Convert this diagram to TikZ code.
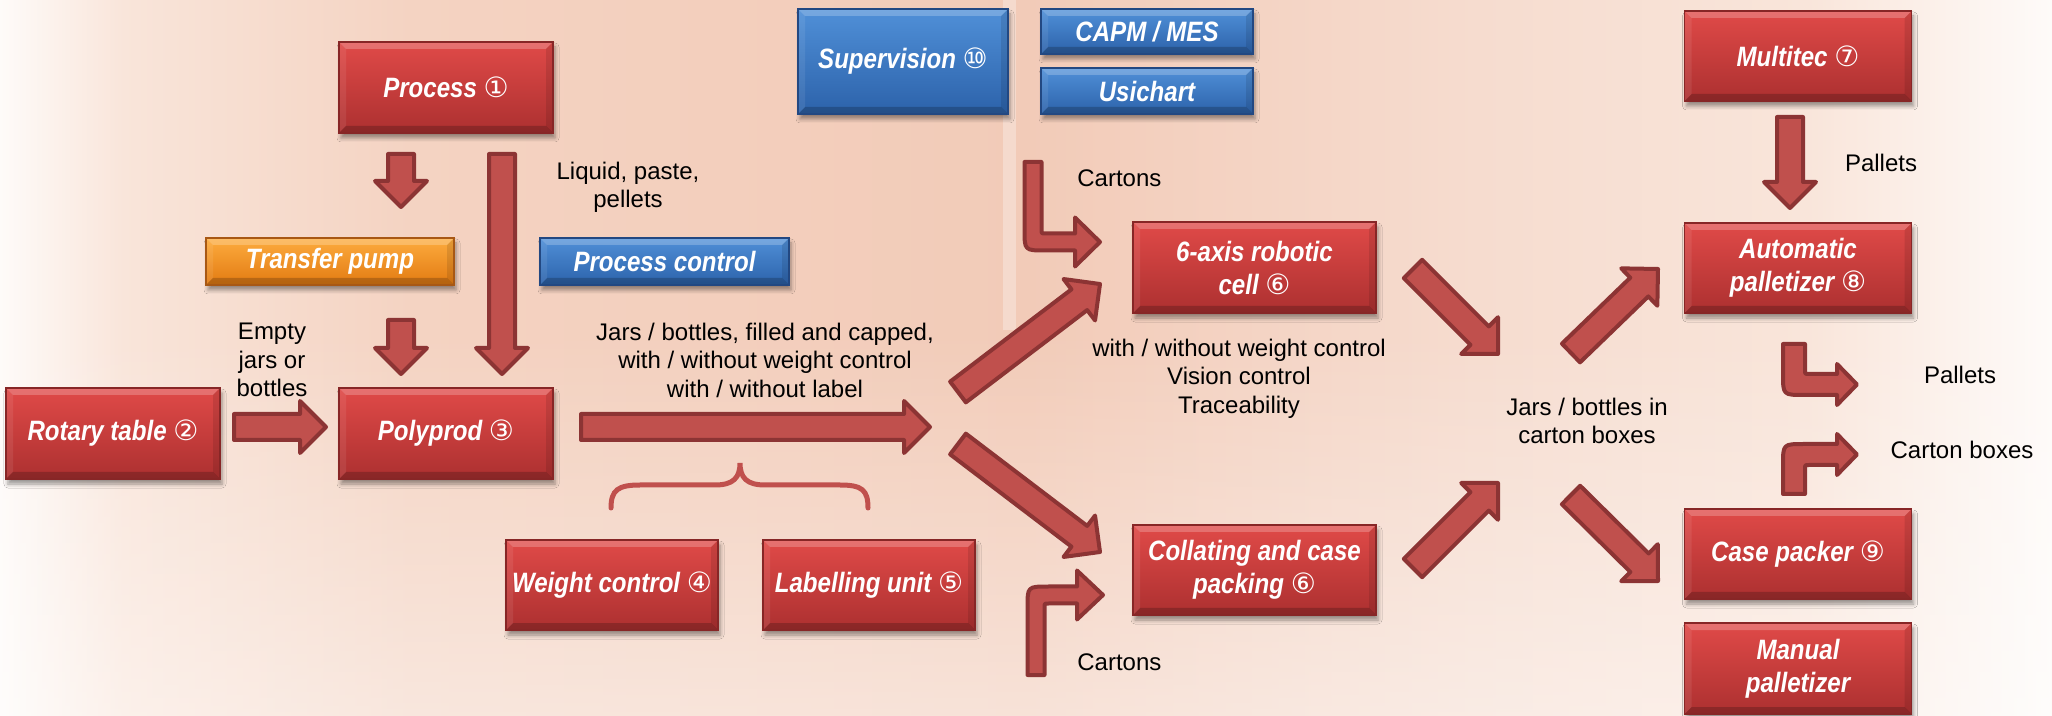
\documentclass[tikz,border=0pt]{standalone}
\usepackage{fontspec}
\setmainfont{Liberation Sans}
\newfontfamily\boxfont{Liberation Sans}[FakeStretch=0.86]
\newfontfamily\cfont{DejaVu Sans}[Scale=1.0]
\usetikzlibrary{calc,shadows.blur,fadings}

\definecolor{arfill}{RGB}{192,80,77}
\definecolor{ardraw}{RGB}{140,52,52}
\definecolor{rtop}{RGB}{224,74,72}
\definecolor{rbot}{RGB}{172,48,48}
\definecolor{rline}{RGB}{135,38,38}
\definecolor{btop}{RGB}{80,144,216}
\definecolor{bbot}{RGB}{44,98,170}
\definecolor{bline}{RGB}{34,72,130}
\definecolor{otop}{RGB}{253,172,62}
\definecolor{obot}{RGB}{226,122,18}
\definecolor{oline}{RGB}{168,88,20}
\definecolor{bgA}{RGB}{254,251,249}
\definecolor{bgB}{RGB}{249,229,218}
\definecolor{bgC}{RGB}{244,211,194}
\definecolor{bgD}{RGB}{242,203,184}
\definecolor{bgE}{RGB}{246,220,207}

\pgfdeclarehorizontalshading{bgshade}{100bp}{color(0bp)=(bgA); color(25bp)=(bgA); color(28bp)=(bgB); color(35bp)=(bgC); color(50bp)=(bgD); color(61bp)=(bgE); color(69bp)=(bgB); color(75bp)=(bgA); color(100bp)=(bgA)}

\newcommand\cn[1]{{\cfont\mdseries\upshape #1}}

\newcommand\bevel{%
  \fill[white,opacity=.22] (path picture bounding box.north west) -- (path picture bounding box.north east) -- ([shift={(-3.5pt,-3.5pt)}]path picture bounding box.north east) -- ([shift={(3.5pt,-3.5pt)}]path picture bounding box.north west) -- cycle;
  \fill[black,opacity=.2] (path picture bounding box.south west) -- (path picture bounding box.south east) -- ([shift={(-3.5pt,3.5pt)}]path picture bounding box.south east) -- ([shift={(3.5pt,3.5pt)}]path picture bounding box.south west) -- cycle;
  \fill[black,opacity=.1] (path picture bounding box.north east) -- (path picture bounding box.south east) -- ([shift={(-3.5pt,3.5pt)}]path picture bounding box.south east) -- ([shift={(-3.5pt,-3.5pt)}]path picture bounding box.north east) -- cycle;
  \fill[white,opacity=.08] (path picture bounding box.north west) -- (path picture bounding box.south west) -- ([shift={(3.5pt,3.5pt)}]path picture bounding box.south west) -- ([shift={(3.5pt,-3.5pt)}]path picture bounding box.north west) -- cycle;
}

\tikzset{
  box/.style={line width=0.6pt, inner sep=0pt, align=center, text=white,
    font=\boxfont\bfseries\itshape\fontsize{14}{16.5}\selectfont,
    blur shadow={shadow xshift=1pt, shadow yshift=-2.5pt, shadow blur radius=2pt, shadow opacity=40},
    path picture={\bevel}},
  rbox/.style={box, draw=rline, top color=rtop, bottom color=rbot},
  bbox/.style={box, draw=bline, top color=btop, bottom color=bbot},
  obox/.style={box, draw=oline, top color=otop, bottom color=obot},
  lbl/.style={font=\fontsize{12}{14.25}\selectfont, align=center, inner sep=0pt, text=black},
  blk/.style={fill=arfill, draw=ardraw, line width=2pt, line join=round},
  bracesty/.style={draw=arfill, line width=2.5pt, line cap=round}
}

\newcommand\barrow[2]{%
  \coordinate (bT) at (#1);
  \coordinate (bH) at (#2);
  \coordinate (bB) at ($(bH)!13pt!(bT)$);
  \draw[blk] ($(bT)!6.5pt!90:(bH)$) -- ($(bB)!6.5pt!90:(bH)$) -- ($(bB)!13pt!90:(bH)$) -- (bH) -- ($(bB)!13pt!-90:(bH)$) -- ($(bB)!6.5pt!-90:(bH)$) -- ($(bT)!6.5pt!-90:(bH)$) -- cycle;
}

\begin{document}
\begin{tikzpicture}[x=0.5pt,y=-0.5pt]
\useasboundingbox (0,0) rectangle (2052,716);
% background
\shade[shading=bgshade] (0,0) rectangle (2052,716);
\fill[white, fill opacity=.45, path fading=north] (0,330) rectangle (2052,716);
\fill[white, opacity=.3] (1003,0) rectangle (1016,330);

% boxes
\node[rbox, minimum width=107pt, minimum height=45.5pt] (process) at (446,87.5) {Process \cn{①}};
\node[rbox, minimum width=107pt, minimum height=45.5pt] (polyprod) at (446,433.5) {Polyprod \cn{③}};
\node[rbox, minimum width=107pt, minimum height=45.5pt] (rotary) at (113,433.5) {Rotary table \cn{②}};
\node[obox, minimum width=124pt, minimum height=23.5pt] (pump) at (330,261.5) {Transfer pump};
\node[bbox, minimum width=124.5pt, minimum height=23.5pt] (pctrl) at (664.5,261.5) {Process control};
\node[rbox, minimum width=106pt, minimum height=45pt] (weight) at (612,585) {Weight control \cn{④}};
\node[rbox, minimum width=106pt, minimum height=45pt] (labelling) at (869,585) {Labelling unit \cn{⑤}};
\node[bbox, minimum width=105pt, minimum height=52.5pt] (superv) at (903,61.5) {Supervision \cn{⑩}};
\node[bbox, minimum width=106pt, minimum height=22.5pt] (capm) at (1147,31.5) {CAPM / MES};
\node[bbox, minimum width=106pt, minimum height=23pt] (usich) at (1147,91) {Usichart};
\node[rbox, minimum width=121.5pt, minimum height=45.5pt] (robot) at (1254.5,267.5) {6-axis robotic\\cell \cn{⑥}};
\node[rbox, minimum width=121.5pt, minimum height=45pt] (collate) at (1254.5,570) {Collating and case\\packing \cn{⑥}};
\node[rbox, minimum width=113.5pt, minimum height=45pt] (multitec) at (1798,56) {Multitec \cn{⑦}};
\node[rbox, minimum width=113.5pt, minimum height=45pt] (autopal) at (1798,268) {Automatic\\palletizer \cn{⑧}};
\node[rbox, minimum width=113.5pt, minimum height=45pt] (casepack) at (1798,554) {Case packer \cn{⑨}};
\node[rbox, minimum width=113.5pt, minimum height=45.5pt] (manual) at (1798,668.5) {Manual\\palletizer};

% labels
\node[lbl] (liquid) at (628,187.5) {Liquid, paste,\\pellets};
\node[lbl] (empty) at (272,360) {Empty\\jars or\\bottles};
\node[lbl] (jars) at (765,360) {Jars / bottles, filled and capped,\\with / without weight control\\with / without label};
\node[lbl, anchor=west] (cart1) at (1077,178) {Cartons};
\node[lbl] (withwc) at (1239,378.5) {with / without weight control\\Vision control\\Traceability};
\node[lbl] (jarsin) at (1587,421) {Jars / bottles in\\carton boxes};
\node[lbl, anchor=west] (cart2) at (1077,662) {Cartons};
\node[lbl] (pal1) at (1881,163) {Pallets};
\node[lbl] (pal2) at (1960,375) {Pallets};
\node[lbl] (cbox) at (1962,450) {Carton boxes};

% arrow end points
\coordinate (a1t) at (401,154);  \coordinate (a1h) at (401,207);
\coordinate (a2t) at (502,154);  \coordinate (a2h) at (502,374);
\coordinate (a3t) at (401,320);  \coordinate (a3h) at (401,374);
\coordinate (a4t) at (234,427);  \coordinate (a4h) at (326,427);
\coordinate (a5t) at (581,427);  \coordinate (a5h) at (930,427);
\coordinate (a6t) at (958,392);  \coordinate (a6h) at (1100,284);
\coordinate (a7t) at (958,444);  \coordinate (a7h) at (1100,552);
\coordinate (a10t) at (1413,269); \coordinate (a10h) at (1498,354);
\coordinate (a11t) at (1413,568); \coordinate (a11h) at (1498,483);
\coordinate (a12t) at (1571,353); \coordinate (a12h) at (1658,269);
\coordinate (a13t) at (1571,495); \coordinate (a13h) at (1658,581);
\coordinate (a14t) at (1790,117); \coordinate (a14h) at (1790,208);

\barrow{a1t}{a1h}
\barrow{a2t}{a2h}
\barrow{a3t}{a3h}
\barrow{a4t}{a4h}
\barrow{a5t}{a5h}
\barrow{a6t}{a6h}
\barrow{a7t}{a7h}
\barrow{a10t}{a10h}
\barrow{a11t}{a11h}
\barrow{a12t}{a12h}
\barrow{a13t}{a13h}
\barrow{a14t}{a14h}

% curved arrows
\draw[blk] (1024.5,162) -- (1024.5,229.5) .. controls (1024.5,250.5) .. (1045.5,250.5) -- (1075,250.5) -- (1075,266.5) -- (1100,242) -- (1075,217.5) -- (1075,233.5) -- (1045.5,233.5) .. controls (1041.5,233.5) .. (1041.5,229.5) -- (1041.5,162) -- cycle;
\draw[blk] (1027.5,675) -- (1027.5,607.5) .. controls (1027.5,586.5) .. (1048.5,586.5) -- (1077,586.5) -- (1077,570.5) -- (1103,595) -- (1077,619.5) -- (1077,603.5) -- (1048.5,603.5) .. controls (1044.5,603.5) .. (1044.5,607.5) -- (1044.5,675) -- cycle;
\draw[blk] (1783,344) -- (1783,374) .. controls (1783,395) .. (1804,395) -- (1837,395) -- (1837,405) -- (1857,384.5) -- (1837,364) -- (1837,374) -- (1809,374) .. controls (1805,374) .. (1805,370) -- (1805,344) -- cycle;
\draw[blk] (1783,494) -- (1783,465) .. controls (1783,444) .. (1804,444) -- (1837,444) -- (1837,434) -- (1857,454.5) -- (1837,475) -- (1837,465) -- (1809,465) .. controls (1805,465) .. (1805,469) -- (1805,494) -- cycle;

% brace
\draw[bracesty] (611,508) .. controls (611,490) and (618,485) .. (640,485) -- (715,485) .. controls (733,485) and (740,478) .. (740,463) .. controls (740,478) and (747,485) .. (765,485) -- (840,485) .. controls (862,485) and (868,490) .. (868,508);
\end{tikzpicture}
\end{document}
